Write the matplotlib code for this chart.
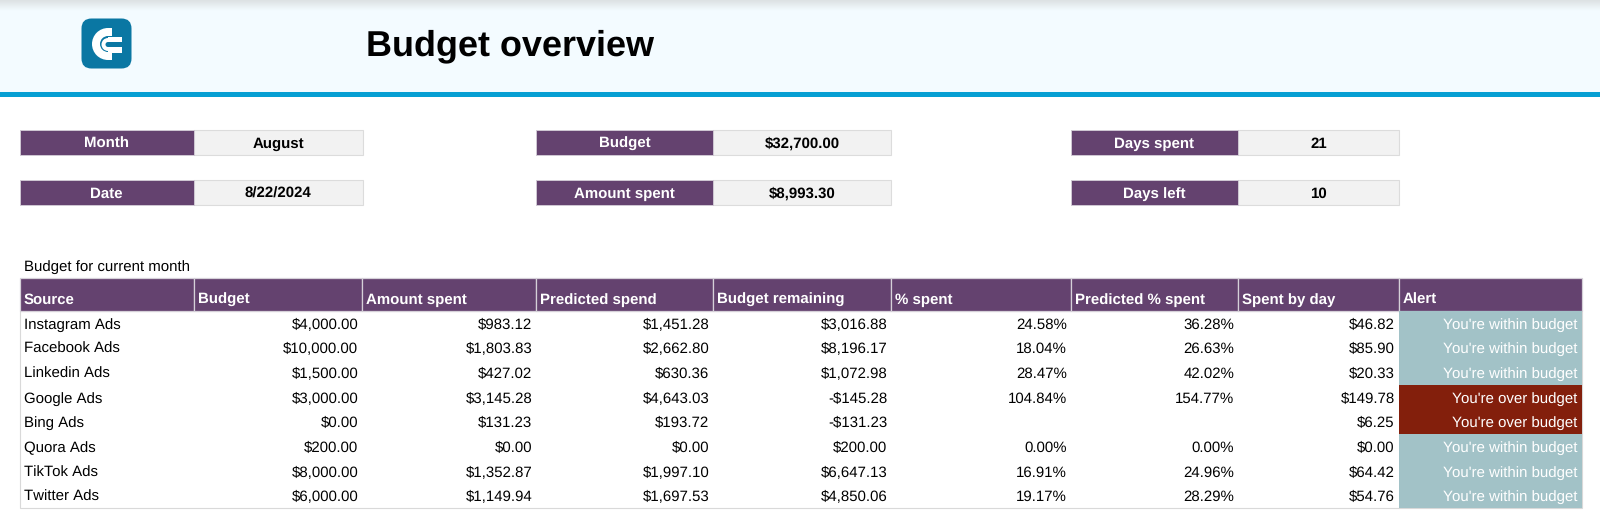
import numpy as np
import matplotlib
matplotlib.use('Agg')
import matplotlib.pyplot as plt
from matplotlib.colors import LinearSegmentedColormap
from matplotlib.patches import Rectangle, FancyBboxPatch, Wedge

plt.rcParams['font.family'] = ['Liberation Sans', 'DejaVu Sans']
plt.rcParams['text.hinting'] = 'none'
plt.rcParams['text.hinting_factor'] = 1

PURPLE = '#64426f'
GREY = '#f2f2f2'
TEAL = '#a2c2c7'
RED = '#831f0c'
FS = 10.65

kpi_labels = [['Month', 'Date'], ['Budget', 'Amount spent'], ['Days spent', 'Days left']]
kpi_values = [['August', '8/22/2024'], ['$32,700.00', '$8,993.30'], ['21', '10']]

headers = ['Source', 'Budget', 'Amount spent', 'Predicted spend', 'Budget remaining',
           '% spent', 'Predicted % spent', 'Spent by day', 'Alert']
sources = ['Instagram Ads', 'Facebook Ads', 'Linkedin Ads', 'Google Ads', 'Bing Ads',
           'Quora Ads', 'TikTok Ads', 'Twitter Ads']
budget = ['$4,000.00', '$10,000.00', '$1,500.00', '$3,000.00', '$0.00', '$200.00', '$8,000.00', '$6,000.00']
amount_spent = ['$983.12', '$1,803.83', '$427.02', '$3,145.28', '$131.23', '$0.00', '$1,352.87', '$1,149.94']
predicted_spend = ['$1,451.28', '$2,662.80', '$630.36', '$4,643.03', '$193.72', '$0.00', '$1,997.10', '$1,697.53']
remaining = ['$3,016.88', '$8,196.17', '$1,072.98', '-$145.28', '-$131.23', '$200.00', '$6,647.13', '$4,850.06']
pct_spent = ['24.58%', '18.04%', '28.47%', '104.84%', '', '0.00%', '16.91%', '19.17%']
predicted_pct = ['36.28%', '26.63%', '42.02%', '154.77%', '', '0.00%', '24.96%', '28.29%']
by_day = ['$46.82', '$85.90', '$20.33', '$149.78', '$6.25', '$0.00', '$64.42', '$54.76']
alerts = ["You're within budget", "You're within budget", "You're within budget", "You're over budget",
          "You're over budget", "You're within budget", "You're within budget", "You're within budget"]

columns = [sources, budget, amount_spent, predicted_spend, remaining, pct_spent, predicted_pct, by_day, alerts]
col_edges = [20, 194, 362, 536, 713, 891, 1071, 1238, 1398.5, 1582]
table_top = 310.7
table_bottom = 508
row_h = (table_bottom - table_top) / 8

fig = plt.figure(figsize=(16, 5.27), dpi=100)
ax = fig.add_axes([0, 0, 1, 1])

# header band
ax.add_patch(Rectangle((0, 0), 1600, 92.5, color='#f3fbff', lw=0))
shade = np.linspace(0, 1, 12).reshape(-1, 1)
grad = LinearSegmentedColormap.from_list('s', ['#dde2e4', '#f3fbff'])
ax.imshow(shade, extent=(0, 1600, 11, 0), aspect='auto', cmap=grad, zorder=1)
ax.set_xlim(0, 1600)
ax.set_ylim(527, 0)
ax.axis('off')
ax.add_patch(Rectangle((0, 92.3), 1600, 5, color='#069fd3', lw=0))
ax.text(365.5, 55, 'Budget overview', fontsize=25.7, fontweight='bold', va='baseline', ha='left', color='black')

# logo
ax.add_patch(FancyBboxPatch((91, 28), 31, 31, boxstyle='round,pad=9.5,rounding_size=10', fc='#0a77a3', ec='none', zorder=2))
ax.add_patch(Wedge((108, 44), 16, 90, 270, width=8, fc='white', ec='none', zorder=3))
ax.add_patch(Wedge((108, 44.5), 6.5, 90, 270, width=4, fc='white', ec='none', zorder=3))
ax.add_patch(Rectangle((108, 28), 4, 8, fc='white', ec='none', zorder=3))
ax.add_patch(Rectangle((108, 52), 4, 8, fc='white', ec='none', zorder=3))
ax.add_patch(Rectangle((108, 36.5), 14, 5.5, fc='white', ec='none', zorder=3))
ax.add_patch(Rectangle((108, 47), 14, 5.5, fc='white', ec='none', zorder=3))

# kpi blocks
kpi_x = [(20, 193.5, 362.5), (536, 713, 891), (1071, 1238, 1399)]
kpi_y = [(130, 155), (179.5, 204.5)]
for (x0, x1, x2), labels, values in zip(kpi_x, kpi_labels, kpi_values):
    for (y0, y1), lab, val in zip(kpi_y, labels, values):
        ax.add_patch(Rectangle((x1, y0), x2 - x1, y1 - y0, fc=GREY, ec='#dcdcdc', lw=0.8))
        ax.add_patch(Rectangle((x0, y0), x1 - x0, y1 - y0, fc=PURPLE, ec='#cfc8d3', lw=0.7))
        base = (y0 + y1) / 2 + 5.6
        ax.text((x0 + x1) / 2, base, lab, color='white', fontsize=FS, fontweight='bold', ha='center', va='baseline')
        ax.text((x1 + x2) / 2, base, val, color='black', fontsize=FS, fontweight='bold', ha='center', va='baseline')

ax.text(23.5, 270.8, 'Budget for current month', fontsize=FS, color='black', ha='left', va='baseline')

# table
ax.add_patch(Rectangle((20, table_top), col_edges[-1] - 20, table_bottom - table_top, fc='white', ec='#d9d9d9', lw=0.8))
for i, head in enumerate(headers):
    x0, x1 = col_edges[i], col_edges[i + 1]
    ax.add_patch(Rectangle((x0, 278.3), x1 - x0, table_top - 278.3, fc=PURPLE, ec='#d5d0d8', lw=0.9))
    ax.text(x0 + 4, 303.9, head, color='white', fontsize=FS, fontweight='bold', ha='left', va='baseline')

for r, alert in enumerate(alerts):
    y0 = table_top + r * row_h
    color = RED if 'over' in alert else TEAL
    ax.add_patch(Rectangle((col_edges[8], y0), col_edges[9] - col_edges[8], row_h, fc=color, ec='none', zorder=2))

for c, col in enumerate(columns):
    for r, val in enumerate(col):
        base = table_top + (r + 0.5) * row_h + 5.6
        if c == 0:
            ax.text(col_edges[0] + 3.5, base, val, fontsize=FS, color='black', ha='left', va='baseline')
        elif c == 8:
            ax.text(col_edges[9] - 4.5, base, val, fontsize=FS, color='white', ha='right', va='baseline', zorder=3)
        else:
            ax.text(col_edges[c + 1] - 3.8, base, val, fontsize=FS, color='black', ha='right', va='baseline')

fig.savefig('out.png', dpi=100)
